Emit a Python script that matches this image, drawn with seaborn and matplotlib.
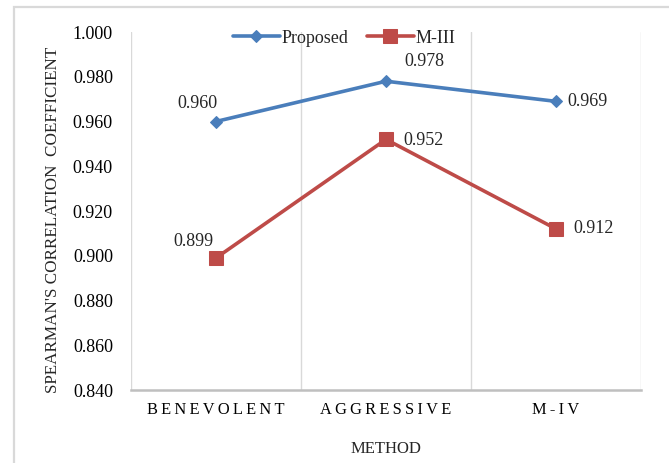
import matplotlib
matplotlib.use("Agg")
import matplotlib.pyplot as plt
import seaborn as sns
import pandas as pd
from matplotlib.patches import Rectangle

# Spearman correlation per method, for the two compared approaches
methods = ["BENEVOLENT", "AGGRESSIVE", "M-IV"]
proposed = [0.960, 0.978, 0.969]
m_iii = [0.899, 0.952, 0.912]
series_names = ["Proposed", "M-III"]
y_ticks = [0.840, 0.860, 0.880, 0.900, 0.920, 0.940, 0.960, 0.980, 1.000]

df = pd.DataFrame({
    "method": methods * 2,
    "value": proposed + m_iii,
    "series": [series_names[0]] * 3 + [series_names[1]] * 3,
})

sns.set_theme(style="white")
plt.rcParams["font.family"] = ["Liberation Serif", "DejaVu Serif"]

BLUE = "#4A7EBB"
RED = "#BE4B48"
palette = {"Proposed": BLUE, "M-III": RED}
markers = {"Proposed": "D", "M-III": "s"}
msizes = {"Proposed": 6.5, "M-III": 10}

fig = plt.figure(figsize=(6.69, 4.63), dpi=100)
W, H = 669, 463
ax = fig.add_axes([131 / W, (H - 390) / H, (641 - 131) / W, (390 - 32) / H])

# one seaborn line per series so each gets its own marker size
for name in series_names:
    sns.lineplot(
        data=df[df["series"] == name], x="method", y="value",
        color=palette[name], marker=markers[name], markersize=msizes[name],
        markeredgecolor=palette[name], linewidth=2.6, sort=False,
        label=name, ax=ax,
    )

ax.set_xlim(-0.5, 2.5)
ax.set_ylim(0.840, 1.000)
ax.set_yticks(y_ticks)
ax.set_yticklabels([f"{v:.3f}" for v in y_ticks], fontsize=13)
ax.set_xticks(range(len(methods)))
spaced = ["\u2009".join(m) for m in methods]
ax.set_xticklabels(spaced, fontsize=11.8)
ax.tick_params(axis="y", length=0, pad=13, colors="#000000")
ax.tick_params(axis="x", length=0, pad=9, colors="#000000")

for b in [-0.5, 0.5, 1.5, 2.5]:
    ax.axvline(b, color="#D9D9D9", lw=1.0, zorder=0)
for s in ["top", "right", "left"]:
    ax.spines[s].set_visible(False)
ax.spines["bottom"].set_color("#BFBFBF")
ax.spines["bottom"].set_linewidth(1.8)

ax.set_xlabel("METHOD", fontsize=12, labelpad=16)
ax.set_ylabel("SPEARMAN'S CORRELATION  COEFFICIENT", fontsize=12.3)
ax.yaxis.set_label_coords(-0.138, 0.475)

# value labels
offsets = {
    ("Proposed", 0): (-19, 18), ("Proposed", 1): (38, 20), ("Proposed", 2): (32, 0),
    ("M-III", 0): (-23, 16), ("M-III", 1): (38, -1), ("M-III", 2): (38, 0),
}
for name, vals in [("Proposed", proposed), ("M-III", m_iii)]:
    for i, v in enumerate(vals):
        dx, dy = offsets[(name, i)]
        ax.annotate(f"{v:.3f}", (i, v), xytext=(dx, dy), textcoords="offset pixels",
                    ha="center", va="center", fontsize=13)

ax.legend(loc="center", bbox_to_anchor=(0.418, 0.983), ncol=2, frameon=False,
          fontsize=13, handlelength=2.6, columnspacing=1.0, handletextpad=0.1,
          borderaxespad=0)

# outer chart frame
fig.patches.append(Rectangle((14 / W, -0.1), 1.2, (H - 7) / H + 0.1,
                             transform=fig.transFigure, fill=False,
                             edgecolor="#D9D9D9", lw=1.6, zorder=0))

fig.savefig("out.png", dpi=100)
